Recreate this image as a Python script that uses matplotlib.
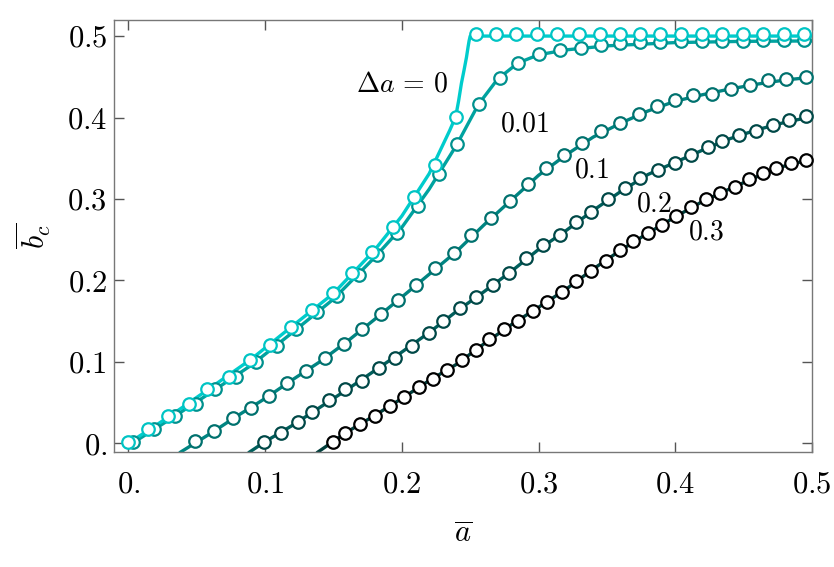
import matplotlib
matplotlib.use("Agg")
import matplotlib.pyplot as plt

plt.rcParams['mathtext.fontset'] = 'cm'
plt.rcParams['font.family'] = 'serif'
plt.rcParams['font.serif'] = ['cmr10', 'DejaVu Serif']
plt.rcParams['axes.unicode_minus'] = False

# simulation points (markers), one set per delta a
x0m = [0.0, 0.0143, 0.029, 0.0443, 0.0578, 0.0736, 0.0887, 0.1039, 0.119, 0.1346, 0.1497, 0.1636,
       0.1785, 0.1936, 0.2089, 0.2243, 0.2394, 0.2546, 0.2687, 0.2838, 0.2989, 0.3135, 0.3296, 0.3448,
       0.3599, 0.3741, 0.3887, 0.4045, 0.4192, 0.4345, 0.4496, 0.4642, 0.4796, 0.4940]
y0m = [0.002, 0.0175, 0.0335, 0.0486, 0.0663, 0.0817, 0.1022, 0.1206, 0.1431, 0.1636, 0.184, 0.2093,
       0.2351, 0.2658, 0.3018, 0.3423, 0.4007, 0.503, 0.503, 0.503, 0.503, 0.503, 0.503, 0.503,
       0.503, 0.503, 0.503, 0.503, 0.503, 0.503, 0.503, 0.503, 0.503, 0.503]

x1m = [0.0034, 0.0185, 0.0339, 0.0492, 0.0631, 0.0785, 0.0936, 0.109, 0.1229, 0.138, 0.1526, 0.1687,
       0.1819, 0.1968, 0.2121, 0.2272, 0.2407, 0.2563, 0.2716, 0.285, 0.3004, 0.316, 0.3314, 0.346,
       0.3599, 0.3741, 0.3887, 0.4045, 0.4192, 0.4345, 0.4496, 0.4642, 0.4796, 0.4940]
y1m = [0.0012, 0.0172, 0.0335, 0.0482, 0.0663, 0.0817, 0.1001, 0.1198, 0.1402, 0.1607, 0.1811, 0.2065,
       0.231, 0.2584, 0.2912, 0.3304, 0.3672, 0.4163, 0.4491, 0.467, 0.4785, 0.4826, 0.4854, 0.4887,
       0.4915, 0.4925, 0.493, 0.4935, 0.494, 0.494, 0.4945, 0.495, 0.4955, 0.4957]

x2m = [0.049, 0.0626, 0.0765, 0.09, 0.1026, 0.1163, 0.1302, 0.1436, 0.1575, 0.1712, 0.1846, 0.1972,
       0.2107, 0.2246, 0.2382, 0.2509, 0.265, 0.2789, 0.2923, 0.3053, 0.3187, 0.3321, 0.346, 0.3594,
       0.3733, 0.387, 0.3996, 0.413, 0.4269, 0.4406, 0.4545, 0.4679, 0.4813, 0.4955]
y2m = [0.0028, 0.0151, 0.0307, 0.0429, 0.0584, 0.0736, 0.0891, 0.1043, 0.1218, 0.1402, 0.1587, 0.1758,
       0.1942, 0.2147, 0.2331, 0.2556, 0.2761, 0.2973, 0.3182, 0.3374, 0.3537, 0.3681, 0.3832, 0.3934,
       0.4037, 0.4139, 0.4221, 0.4274, 0.4294, 0.4347, 0.4396, 0.4458, 0.447, 0.4498]

x3m = [0.0992, 0.1114, 0.1241, 0.1343, 0.1468, 0.1587, 0.1712, 0.1833, 0.1953, 0.2075, 0.2197, 0.2302,
       0.2424, 0.2546, 0.2667, 0.2784, 0.2911, 0.3033, 0.316, 0.3277, 0.3387, 0.3508, 0.363, 0.3745,
       0.3874, 0.3996, 0.4118, 0.424, 0.4345, 0.4467, 0.459, 0.4712, 0.4833, 0.4955]
y3m = [0.002, 0.013, 0.0258, 0.038, 0.0531, 0.0663, 0.0764, 0.092, 0.105, 0.1198, 0.1355, 0.1503,
       0.1656, 0.1793, 0.1942, 0.209, 0.227, 0.2433, 0.2556, 0.2719, 0.2842, 0.2994, 0.3129, 0.3252,
       0.3354, 0.3436, 0.3538, 0.364, 0.371, 0.3783, 0.3836, 0.3914, 0.3967, 0.4016]

x4m = [0.1497, 0.1587, 0.1692, 0.1802, 0.1911, 0.2014, 0.2124, 0.2228, 0.2334, 0.2443, 0.2546, 0.2638,
       0.2746, 0.2848, 0.2960, 0.3065, 0.3175, 0.3277, 0.3382, 0.3492, 0.3594, 0.3691, 0.3801, 0.3906,
       0.4009, 0.4118, 0.4223, 0.4326, 0.4435, 0.4540, 0.4642, 0.4740, 0.4850, 0.4955]
y4m = [0.002, 0.013, 0.0237, 0.0339, 0.0458, 0.0564, 0.0694, 0.0793, 0.0895, 0.1022, 0.1145, 0.1276,
       0.1402, 0.1504, 0.1627, 0.1737, 0.1859, 0.1991, 0.2118, 0.224, 0.2372, 0.2486, 0.2584, 0.2679,
       0.2789, 0.2896, 0.2994, 0.3075, 0.3148, 0.3243, 0.3321, 0.3374, 0.3436, 0.3476]

# theory curves (lines)
x0l = [0.0, 0.03, 0.06, 0.09, 0.12, 0.15, 0.18, 0.20, 0.22, 0.235, 0.2394, 0.2415, 0.2436, 0.2455,
       0.2473, 0.2485, 0.2492, 0.25, 0.5]
y0l = [0.0, 0.033, 0.068, 0.1035, 0.144, 0.184, 0.237, 0.279, 0.331, 0.384, 0.401, 0.42, 0.442, 0.458,
       0.474, 0.487, 0.494, 0.5, 0.5]

x1l = [0.0, 0.03, 0.06, 0.09, 0.12, 0.15, 0.18, 0.20, 0.22, 0.24, 0.256, 0.27, 0.285, 0.30, 0.32, 0.35,
       0.40, 0.45, 0.5]
y1l = [-0.003, 0.029, 0.062, 0.096, 0.136, 0.177, 0.228, 0.265, 0.312, 0.366, 0.416, 0.447, 0.467, 0.477,
       0.483, 0.488, 0.492, 0.4935, 0.494]

x2l = [0.0383, 0.06, 0.08, 0.10, 0.12, 0.14, 0.16, 0.18, 0.20, 0.22, 0.24, 0.26, 0.28, 0.30, 0.32, 0.34,
       0.36, 0.38, 0.40, 0.42, 0.44, 0.46, 0.48, 0.50]
y2l = [-0.0107, 0.012, 0.034, 0.055, 0.078, 0.100, 0.125, 0.152, 0.1795, 0.2075, 0.2355, 0.268, 0.2985,
       0.329, 0.354, 0.376, 0.393, 0.408, 0.420, 0.428, 0.435, 0.441, 0.446, 0.4495]

x3l = [0.0887, 0.10, 0.12, 0.14, 0.16, 0.18, 0.20, 0.22, 0.24, 0.26, 0.28, 0.30, 0.32, 0.34, 0.36, 0.38,
       0.40, 0.42, 0.44, 0.46, 0.48, 0.50]
y3l = [-0.0107, 0.002, 0.022, 0.044, 0.066, 0.089, 0.112, 0.136, 0.162, 0.186, 0.211, 0.238, 0.261,
       0.286, 0.309, 0.330, 0.345, 0.360, 0.374, 0.385, 0.394, 0.401]

x4l = [0.1387, 0.16, 0.18, 0.20, 0.22, 0.24, 0.26, 0.28, 0.30, 0.32, 0.34, 0.36, 0.38, 0.40, 0.42, 0.44,
       0.46, 0.48, 0.50]
y4l = [-0.0107, 0.014, 0.034, 0.055, 0.077, 0.097, 0.122, 0.1455, 0.167, 0.189, 0.214, 0.237, 0.258,
       0.278, 0.297, 0.3125, 0.3275, 0.3405, 0.349]

labels = [r'$\Delta a\,=\,0$', r'$0.01$', r'$0.1$', r'$0.2$', r'$0.3$']
label_pos = [(0.2005, 0.441), (0.2895, 0.392), (0.3385, 0.335), (0.3845, 0.294), (0.4225, 0.259)]

line_colors = ['#00CCCC', '#00A3A0', '#008582', '#005F5C', '#003E3C']
marker_colors = ['#00C4C4', '#00918E', '#00716E', '#004847', '#000000']

xs_l = [x0l, x1l, x2l, x3l, x4l]
ys_l = [y0l, y1l, y2l, y3l, y4l]
xs_m = [x0m, x1m, x2m, x3m, x4m]
ys_m = [y0m, y1m, y2m, y3m, y4m]

fig = plt.figure(figsize=(8.34, 5.67), dpi=100)
ax = fig.add_axes([0.1367, 0.2028, 0.8369, 0.7619])

for i in reversed(range(5)):
    ax.plot(xs_l[i], ys_l[i], color=line_colors[i], lw=2.4, zorder=2 + (5 - i) * 0.1, clip_on=True)
    ax.plot(xs_m[i], ys_m[i], ls='none', marker='o', ms=9, mfc='white',
            mec=marker_colors[i], mew=1.6, zorder=3 + (5 - i) * 0.1, clip_on=False)

for lab, (tx, ty) in zip(labels, label_pos):
    ax.text(tx, ty, lab, fontsize=20, ha='center', va='center', color='black')

ax.set_xlim(-0.0105, 0.5)
ax.set_ylim(-0.0107, 0.5197)

xt = [0.0, 0.1, 0.2, 0.3, 0.4, 0.5]
yt = [0.0, 0.1, 0.2, 0.3, 0.4, 0.5]
tick_text = [r'$0.$', r'$0.1$', r'$0.2$', r'$0.3$', r'$0.4$', r'$0.5$']
ax.set_xticks(xt)
ax.set_xticklabels(tick_text, fontsize=22)
ax.set_yticks(yt)
ax.set_yticklabels(tick_text, fontsize=22)
ax.tick_params(direction='in', length=7, width=1, color='#555555', top=True, right=True)
ax.tick_params(axis='y', pad=5)
ax.tick_params(axis='x', pad=14)
for s in ax.spines.values():
    s.set_color('#777777')
    s.set_linewidth(1)

ax.set_xlabel(r'$\overline{a}$', fontsize=22, labelpad=16)
ax.set_ylabel(r'$\overline{b_c}$', fontsize=22, labelpad=10)

fig.savefig('out.png', dpi=100)
